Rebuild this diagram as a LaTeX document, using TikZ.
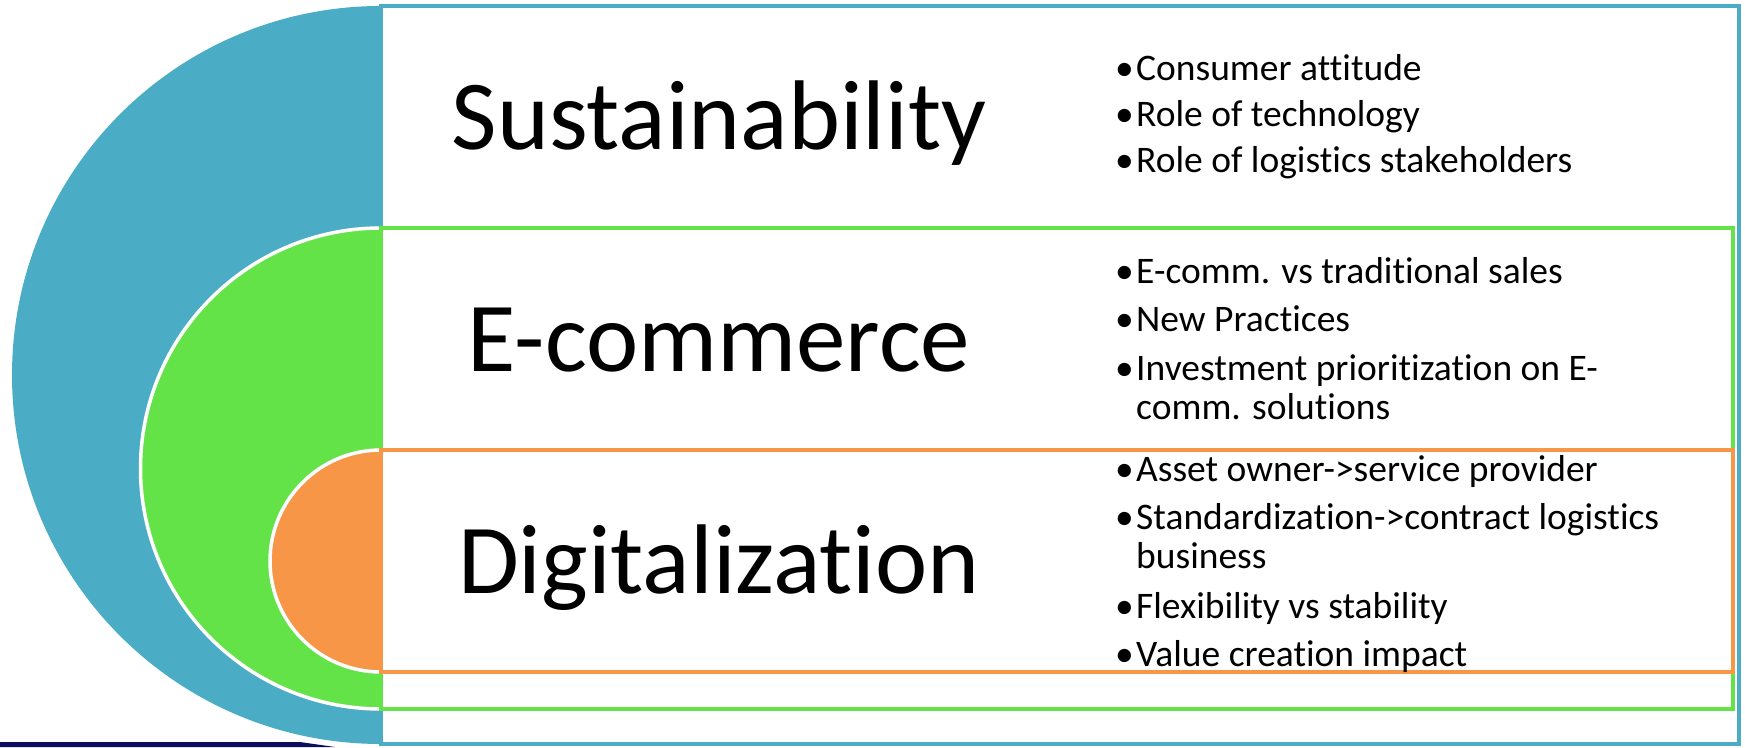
\documentclass[tikz,border=0pt]{standalone}
\usepackage{fontspec}
\setmainfont{Carlito}[Ligatures=NoCommon]
\definecolor{cblue}{HTML}{4BACC6}
\definecolor{cgreen}{HTML}{63E347}
\definecolor{corange}{HTML}{F79646}
\definecolor{cnavy}{HTML}{0D0D5E}
\newcommand\itembul{\makebox[21pt][l]{•}}
\begin{document}
\begin{tikzpicture}[x=1pt,y=1pt,
  titletext/.style={anchor=base, inner sep=0pt, font=\fontsize{99}{120}\selectfont},
  itemtext/.style={anchor=base west, inner sep=0pt, font=\fontsize{37.5}{40}\selectfont},
  halo/.style={draw=white, line width=3.5pt},
  panel/.style={line width=4pt, fill=white},
]
\useasboundingbox (0,0) rectangle (1745,747);
% bottom strip
\fill[cnavy] (0,0) -- (0,5) -- (300,5) -- (335,0) -- cycle;
% blue layer
\fill[cblue] (381,741) arc[start angle=90, end angle=270, radius=369] -- cycle;
\draw[panel, draw=cblue] (381,3) rectangle (1739,741);
% green layer
\filldraw[fill=cgreen, halo] (381,519) arc[start angle=90, end angle=270, radius=240.5] -- cycle;
\draw[panel, draw=cgreen] (381,38) rectangle (1733,519);
% orange layer
\filldraw[fill=corange, halo] (381,297) arc[start angle=90, end angle=270, radius=111] -- cycle;
\draw[panel, draw=corange] (381,75) rectangle (1733,297);
% titles
\node[titletext] (t1) at (719,597) {Sustainability};
\node[titletext] (t2) at (719,375) {E-commerce};
\node[titletext] (t3) at (719,153) {Digitalization};
% section 1
\node[itemtext] (a1) at (1115,666) {\itembul Consumer attitude};
\node[itemtext] (a2) at (1115,620) {\itembul Role of technology};
\node[itemtext] (a3) at (1115,574) {\itembul Role of logistics stakeholders};
% section 2
\node[itemtext] (b1) at (1115,463) {\itembul E-comm. vs traditional sales};
\node[itemtext] (b2) at (1115,415) {\itembul New Practices};
\node[itemtext] (b3) at (1115,366) {\itembul Investment prioritization on E-};
\node[itemtext] (b4) at (1136,327) {comm. solutions};
% section 3
\node[itemtext] (c1) at (1115,265) {\itembul Asset owner->service provider};
\node[itemtext] (c2) at (1115,217) {\itembul Standardization->contract logistics};
\node[itemtext] (c3) at (1136,178) {business};
\node[itemtext] (c4) at (1115,128) {\itembul Flexibility vs stability};
\node[itemtext] (c5) at (1115,81) {\itembul Value creation impact};
\end{tikzpicture}
\end{document}
